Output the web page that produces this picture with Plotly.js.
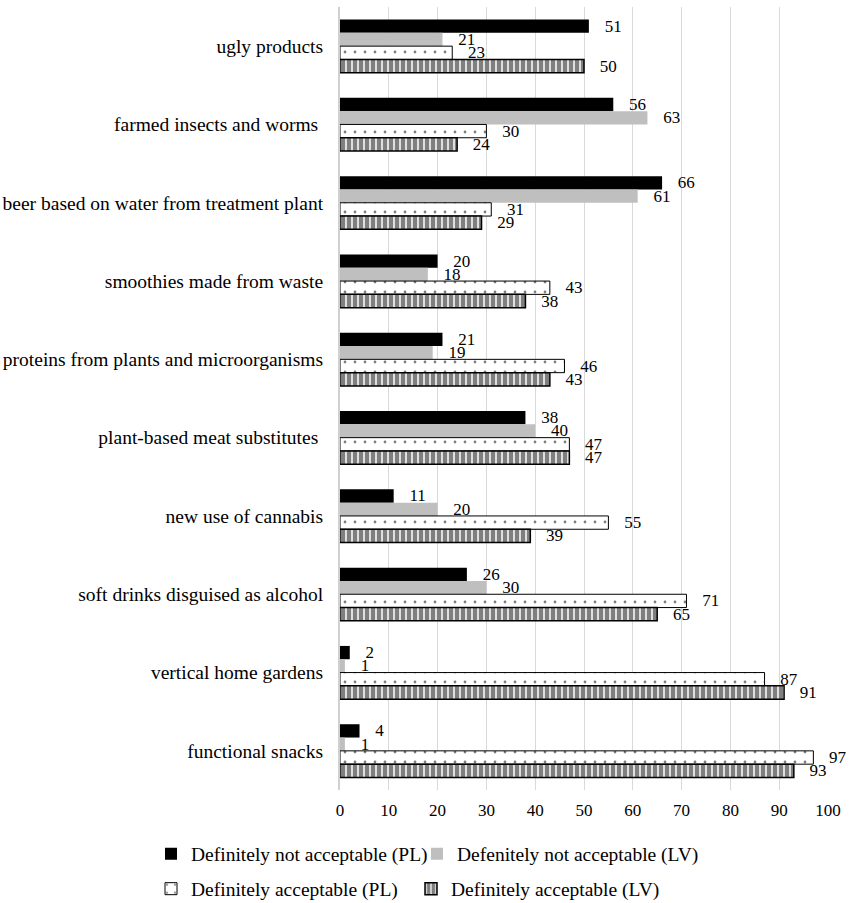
<!DOCTYPE html>
<html>
<head>
<meta charset="utf-8">
<script src="https://cdn.plot.ly/plotly-3.0.1.min.js"></script>
<style>html,body{margin:0;padding:0;background:#fff;}#chart{width:849px;height:903px;}</style>
</head>
<body>
<div id="chart"></div>
<script>
var categories = [
  "ugly products",
  "farmed insects and worms ",
  "beer based on water from treatment plant",
  "smoothies made from waste",
  "proteins from plants and microorganisms",
  "plant-based meat substitutes ",
  "new use of cannabis",
  "soft drinks disguised as alcohol",
  "vertical home gardens",
  "functional snacks"
];
var seriesNames = [
  "Definitely not acceptable (PL)",
  "Defenitely not acceptable (LV)",
  "Definitely acceptable (PL)",
  "Definitely acceptable (LV)"
];
var notAcceptablePL = [51, 56, 66, 20, 21, 38, 11, 26, 2, 4];
var notAcceptableLV = [21, 63, 61, 18, 19, 40, 20, 30, 1, 1];
var acceptablePL    = [23, 30, 31, 43, 46, 47, 55, 71, 87, 97];
var acceptableLV    = [50, 24, 29, 38, 43, 47, 39, 65, 91, 93];
var xTicks = [0, 10, 20, 30, 40, 50, 60, 70, 80, 90, 100];

var FONT = "Liberation Serif";
var labelTpl = "\u00a0\u00a0\u00a0%{x}";

function base(name, vals, legend) {
  return {
    type: "bar", orientation: "h", name: name,
    x: vals, y: categories,
    texttemplate: labelTpl, textposition: "outside",
    constraintext: "none", cliponaxis: false,
    textfont: {family: FONT, size: 17, color: "#000"},
    legend: legend, hoverinfo: "x+name"
  };
}

var t1 = base(seriesNames[0], notAcceptablePL, "legend");
t1.marker = {color: "#000000", line: {width: 0}};
var t2 = base(seriesNames[1], notAcceptableLV, "legend2");
t2.marker = {color: "#bfbfbf", line: {width: 0}};
var t3 = base(seriesNames[2], acceptablePL, "legend3");
t3.marker = {color: "#ffffff", line: {width: 1, color: "#000"},
  pattern: {shape: ".", size: 10, solidity: 0.06, fgcolor: "#000", bgcolor: "#ffffff", fillmode: "overlay"}};
var t4 = base(seriesNames[3], acceptableLV, "legend4");
t4.marker = {color: "#ffffff", line: {width: 1.5, color: "#000"},
  pattern: {shape: "|", size: 6, solidity: 0.75, fgcolor: "#000", bgcolor: "#ffffff", fillmode: "overlay"}};

function leg(xpx, ypx) {
  return {
    orientation: "h", xref: "container", yref: "container",
    x: xpx / 849, xanchor: "left", y: 1 - ypx / 903, yanchor: "middle",
    itemwidth: 30,
    font: {family: FONT, size: 19.5, color: "#000"}, bgcolor: "rgba(0,0,0,0)"
  };
}

var layout = {
  width: 849, height: 903,
  margin: {l: 340, r: 21, t: 7, b: 113},
  paper_bgcolor: "#fff", plot_bgcolor: "#fff",
  barmode: "group", bargap: 0.32, bargroupgap: 0,
  font: {family: FONT, size: 17, color: "#000"},
  xaxis: {
    range: [0, 100], tickvals: xTicks, ticktext: xTicks.map(String),
    showgrid: true, gridcolor: "#d9d9d9", gridwidth: 1,
    zeroline: false, showline: false, ticks: "",
    tickfont: {family: FONT, size: 17, color: "#000"},
    ticklabelstandoff: 8, fixedrange: true
  },
  yaxis: {
    autorange: "reversed", showgrid: false, zeroline: false,
    showline: true, linecolor: "#d0d0d0", linewidth: 2, ticks: "",
    tickfont: {family: FONT, size: 19.5, color: "#000"},
    ticklabelstandoff: 11, fixedrange: true
  },
  showlegend: true,
  legend: leg(151, 854),
  legend2: leg(417, 854),
  legend3: leg(151, 889),
  legend4: leg(411, 889)
};

Plotly.newPlot("chart", [t1, t2, t3, t4], layout, {displayModeBar: false, staticPlot: true});
</script>
</body>
</html>
